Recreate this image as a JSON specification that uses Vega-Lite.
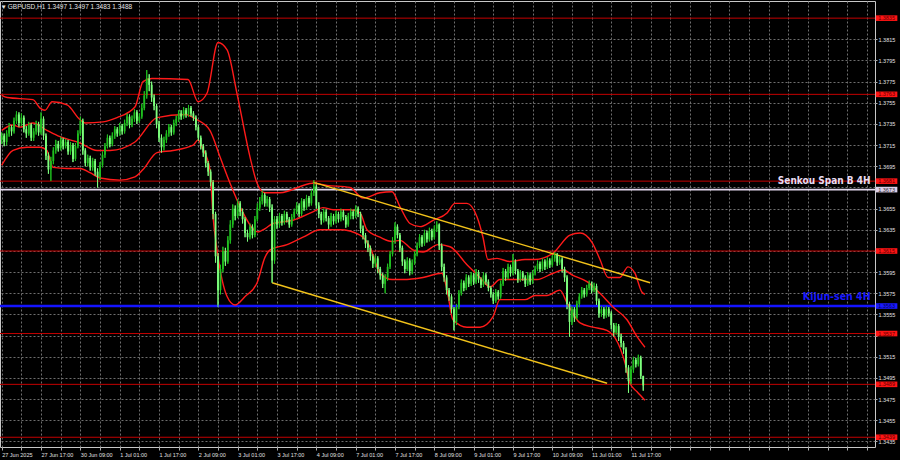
{
"$schema":"https://vega.github.io/schema/vega-lite/v6.json",
"width":875,"height":446,"autosize":{"type":"none"},
"padding":{"left":0,"top":1,"right":25,"bottom":13},
"background":"#000000",
"config":{"view":{"stroke":"#c8c8c8","strokeWidth":1},"font":"Liberation Sans","axis":{"labelFont":"Liberation Sans","labelOverlap":false}},
"title":{"text":"▾ GBPUSD,H1  1.3497 1.3497 1.3483 1.3488","anchor":"start","frame":"group","offset":-9,"fontSize":6.5,"color":"#e6e6e6","fontWeight":"normal","font":"Liberation Sans","dx":2},
"datasets":{
"candles":[
{"i":0,"o":1.3720,"h":1.3727,"l":1.3716,"c":1.3724},
{"i":1,"o":1.3724,"h":1.3726,"l":1.3714,"c":1.3718},
{"i":2,"o":1.3718,"h":1.3729,"l":1.3715,"c":1.3726},
{"i":3,"o":1.3726,"h":1.3736,"l":1.3723,"c":1.3732},
{"i":4,"o":1.3732,"h":1.3734,"l":1.3724,"c":1.3728},
{"i":5,"o":1.3728,"h":1.3741,"l":1.3726,"c":1.3738},
{"i":6,"o":1.3738,"h":1.3747,"l":1.3735,"c":1.3744},
{"i":7,"o":1.3744,"h":1.3746,"l":1.3732,"c":1.3736},
{"i":8,"o":1.3736,"h":1.3745,"l":1.3733,"c":1.3741},
{"i":9,"o":1.3741,"h":1.3743,"l":1.3727,"c":1.3730},
{"i":10,"o":1.3730,"h":1.3733,"l":1.3722,"c":1.3726},
{"i":11,"o":1.3726,"h":1.3737,"l":1.3724,"c":1.3734},
{"i":12,"o":1.3734,"h":1.3736,"l":1.3719,"c":1.3722},
{"i":13,"o":1.3722,"h":1.3731,"l":1.3719,"c":1.3728},
{"i":14,"o":1.3728,"h":1.3738,"l":1.3725,"c":1.3735},
{"i":15,"o":1.3735,"h":1.3737,"l":1.3724,"c":1.3727},
{"i":16,"o":1.3727,"h":1.3746,"l":1.3725,"c":1.3740},
{"i":17,"o":1.3740,"h":1.3742,"l":1.3720,"c":1.3724},
{"i":18,"o":1.3724,"h":1.3726,"l":1.3701,"c":1.3705},
{"i":19,"o":1.3705,"h":1.3708,"l":1.3688,"c":1.3692},
{"i":20,"o":1.3692,"h":1.3704,"l":1.3681,"c":1.3700},
{"i":21,"o":1.3700,"h":1.3713,"l":1.3697,"c":1.3710},
{"i":22,"o":1.3710,"h":1.3720,"l":1.3707,"c":1.3716},
{"i":23,"o":1.3716,"h":1.3719,"l":1.3709,"c":1.3712},
{"i":24,"o":1.3712,"h":1.3723,"l":1.3710,"c":1.3720},
{"i":25,"o":1.3720,"h":1.3722,"l":1.3711,"c":1.3714},
{"i":26,"o":1.3714,"h":1.3721,"l":1.3712,"c":1.3718},
{"i":27,"o":1.3718,"h":1.3720,"l":1.3706,"c":1.3709},
{"i":28,"o":1.3709,"h":1.3718,"l":1.3706,"c":1.3715},
{"i":29,"o":1.3715,"h":1.3717,"l":1.3699,"c":1.3702},
{"i":30,"o":1.3702,"h":1.3717,"l":1.3700,"c":1.3714},
{"i":31,"o":1.3714,"h":1.3729,"l":1.3712,"c":1.3726},
{"i":32,"o":1.3726,"h":1.3742,"l":1.3724,"c":1.3738},
{"i":33,"o":1.3738,"h":1.3740,"l":1.3706,"c":1.3710},
{"i":34,"o":1.3710,"h":1.3712,"l":1.3695,"c":1.3698},
{"i":35,"o":1.3698,"h":1.3706,"l":1.3695,"c":1.3703},
{"i":36,"o":1.3703,"h":1.3705,"l":1.3691,"c":1.3694},
{"i":37,"o":1.3694,"h":1.3703,"l":1.3691,"c":1.3700},
{"i":38,"o":1.3700,"h":1.3702,"l":1.3686,"c":1.3690},
{"i":39,"o":1.3690,"h":1.3693,"l":1.3675,"c":1.3685},
{"i":40,"o":1.3685,"h":1.3699,"l":1.3682,"c":1.3696},
{"i":41,"o":1.3696,"h":1.3709,"l":1.3694,"c":1.3706},
{"i":42,"o":1.3706,"h":1.3717,"l":1.3703,"c":1.3714},
{"i":43,"o":1.3714,"h":1.3725,"l":1.3712,"c":1.3722},
{"i":44,"o":1.3722,"h":1.3724,"l":1.3713,"c":1.3716},
{"i":45,"o":1.3716,"h":1.3727,"l":1.3714,"c":1.3724},
{"i":46,"o":1.3724,"h":1.3733,"l":1.3721,"c":1.3730},
{"i":47,"o":1.3730,"h":1.3732,"l":1.3723,"c":1.3726},
{"i":48,"o":1.3726,"h":1.3736,"l":1.3724,"c":1.3733},
{"i":49,"o":1.3733,"h":1.3735,"l":1.3725,"c":1.3728},
{"i":50,"o":1.3728,"h":1.3739,"l":1.3726,"c":1.3736},
{"i":51,"o":1.3736,"h":1.3745,"l":1.3733,"c":1.3742},
{"i":52,"o":1.3742,"h":1.3744,"l":1.3731,"c":1.3734},
{"i":53,"o":1.3734,"h":1.3743,"l":1.3732,"c":1.3740},
{"i":54,"o":1.3740,"h":1.3749,"l":1.3737,"c":1.3746},
{"i":55,"o":1.3746,"h":1.3748,"l":1.3735,"c":1.3738},
{"i":56,"o":1.3738,"h":1.3745,"l":1.3736,"c":1.3742},
{"i":57,"o":1.3742,"h":1.3754,"l":1.3740,"c":1.3750},
{"i":58,"o":1.3750,"h":1.3766,"l":1.3748,"c":1.3762},
{"i":59,"o":1.3762,"h":1.3786,"l":1.3759,"c":1.3778},
{"i":60,"o":1.3778,"h":1.3782,"l":1.3766,"c":1.3772},
{"i":61,"o":1.3772,"h":1.3775,"l":1.3756,"c":1.3760},
{"i":62,"o":1.3760,"h":1.3763,"l":1.3748,"c":1.3752},
{"i":63,"o":1.3752,"h":1.3754,"l":1.3731,"c":1.3735},
{"i":64,"o":1.3735,"h":1.3738,"l":1.3718,"c":1.3722},
{"i":65,"o":1.3722,"h":1.3725,"l":1.3708,"c":1.3713},
{"i":66,"o":1.3713,"h":1.3723,"l":1.3710,"c":1.3720},
{"i":67,"o":1.3720,"h":1.3729,"l":1.3717,"c":1.3726},
{"i":68,"o":1.3726,"h":1.3735,"l":1.3723,"c":1.3732},
{"i":69,"o":1.3732,"h":1.3734,"l":1.3724,"c":1.3727},
{"i":70,"o":1.3727,"h":1.3739,"l":1.3725,"c":1.3736},
{"i":71,"o":1.3736,"h":1.3743,"l":1.3733,"c":1.3740},
{"i":72,"o":1.3740,"h":1.3748,"l":1.3737,"c":1.3745},
{"i":73,"o":1.3745,"h":1.3748,"l":1.3739,"c":1.3742},
{"i":74,"o":1.3742,"h":1.3751,"l":1.3740,"c":1.3748},
{"i":75,"o":1.3748,"h":1.3750,"l":1.3741,"c":1.3744},
{"i":76,"o":1.3744,"h":1.3753,"l":1.3742,"c":1.3750},
{"i":77,"o":1.3750,"h":1.3752,"l":1.3742,"c":1.3745},
{"i":78,"o":1.3745,"h":1.3747,"l":1.3738,"c":1.3741},
{"i":79,"o":1.3741,"h":1.3743,"l":1.3729,"c":1.3732},
{"i":80,"o":1.3732,"h":1.3734,"l":1.3719,"c":1.3722},
{"i":81,"o":1.3722,"h":1.3724,"l":1.3711,"c":1.3714},
{"i":82,"o":1.3714,"h":1.3716,"l":1.3704,"c":1.3708},
{"i":83,"o":1.3708,"h":1.3710,"l":1.3694,"c":1.3698},
{"i":84,"o":1.3698,"h":1.3700,"l":1.3686,"c":1.3690},
{"i":85,"o":1.3690,"h":1.3692,"l":1.3676,"c":1.3680},
{"i":86,"o":1.3680,"h":1.3682,"l":1.3645,"c":1.3650},
{"i":87,"o":1.3650,"h":1.3652,"l":1.3604,"c":1.3610},
{"i":88,"o":1.3610,"h":1.3613,"l":1.3562,"c":1.3578},
{"i":89,"o":1.3578,"h":1.3602,"l":1.3574,"c":1.3598},
{"i":90,"o":1.3598,"h":1.3619,"l":1.3595,"c":1.3615},
{"i":91,"o":1.3615,"h":1.3618,"l":1.3601,"c":1.3605},
{"i":92,"o":1.3605,"h":1.3629,"l":1.3603,"c":1.3625},
{"i":93,"o":1.3625,"h":1.3644,"l":1.3622,"c":1.3640},
{"i":94,"o":1.3640,"h":1.3659,"l":1.3637,"c":1.3655},
{"i":95,"o":1.3655,"h":1.3658,"l":1.3644,"c":1.3648},
{"i":96,"o":1.3648,"h":1.3664,"l":1.3646,"c":1.3660},
{"i":97,"o":1.3660,"h":1.3662,"l":1.3648,"c":1.3652},
{"i":98,"o":1.3652,"h":1.3655,"l":1.3641,"c":1.3645},
{"i":99,"o":1.3645,"h":1.3647,"l":1.3628,"c":1.3632},
{"i":100,"o":1.3632,"h":1.3635,"l":1.3624,"c":1.3628},
{"i":101,"o":1.3628,"h":1.3641,"l":1.3626,"c":1.3638},
{"i":102,"o":1.3638,"h":1.3640,"l":1.3627,"c":1.3630},
{"i":103,"o":1.3630,"h":1.3648,"l":1.3628,"c":1.3645},
{"i":104,"o":1.3645,"h":1.3660,"l":1.3643,"c":1.3656},
{"i":105,"o":1.3656,"h":1.3666,"l":1.3653,"c":1.3662},
{"i":106,"o":1.3662,"h":1.3672,"l":1.3659,"c":1.3668},
{"i":107,"o":1.3668,"h":1.3670,"l":1.3657,"c":1.3660},
{"i":108,"o":1.3660,"h":1.3667,"l":1.3657,"c":1.3664},
{"i":109,"o":1.3664,"h":1.3666,"l":1.3652,"c":1.3656},
{"i":110,"o":1.3656,"h":1.3659,"l":1.3585,"c":1.3606},
{"i":111,"o":1.3606,"h":1.3648,"l":1.3603,"c":1.3645},
{"i":112,"o":1.3645,"h":1.3648,"l":1.3636,"c":1.3640},
{"i":113,"o":1.3640,"h":1.3651,"l":1.3637,"c":1.3648},
{"i":114,"o":1.3648,"h":1.3650,"l":1.3639,"c":1.3642},
{"i":115,"o":1.3642,"h":1.3653,"l":1.3640,"c":1.3650},
{"i":116,"o":1.3650,"h":1.3652,"l":1.3642,"c":1.3645},
{"i":117,"o":1.3645,"h":1.3647,"l":1.3637,"c":1.3640},
{"i":118,"o":1.3640,"h":1.3650,"l":1.3638,"c":1.3647},
{"i":119,"o":1.3647,"h":1.3655,"l":1.3645,"c":1.3652},
{"i":120,"o":1.3652,"h":1.3661,"l":1.3650,"c":1.3658},
{"i":121,"o":1.3658,"h":1.3660,"l":1.3647,"c":1.3650},
{"i":122,"o":1.3650,"h":1.3665,"l":1.3648,"c":1.3662},
{"i":123,"o":1.3662,"h":1.3664,"l":1.3653,"c":1.3656},
{"i":124,"o":1.3656,"h":1.3668,"l":1.3654,"c":1.3665},
{"i":125,"o":1.3665,"h":1.3667,"l":1.3657,"c":1.3660},
{"i":126,"o":1.3660,"h":1.3673,"l":1.3658,"c":1.3670},
{"i":127,"o":1.3670,"h":1.3682,"l":1.3667,"c":1.3676},
{"i":128,"o":1.3676,"h":1.3678,"l":1.3655,"c":1.3658},
{"i":129,"o":1.3658,"h":1.3661,"l":1.3646,"c":1.3650},
{"i":130,"o":1.3650,"h":1.3652,"l":1.3640,"c":1.3644},
{"i":131,"o":1.3644,"h":1.3655,"l":1.3642,"c":1.3652},
{"i":132,"o":1.3652,"h":1.3654,"l":1.3643,"c":1.3646},
{"i":133,"o":1.3646,"h":1.3648,"l":1.3636,"c":1.3640},
{"i":134,"o":1.3640,"h":1.3651,"l":1.3638,"c":1.3648},
{"i":135,"o":1.3648,"h":1.3650,"l":1.3640,"c":1.3643},
{"i":136,"o":1.3643,"h":1.3653,"l":1.3641,"c":1.3650},
{"i":137,"o":1.3650,"h":1.3652,"l":1.3642,"c":1.3645},
{"i":138,"o":1.3645,"h":1.3655,"l":1.3643,"c":1.3652},
{"i":139,"o":1.3652,"h":1.3654,"l":1.3644,"c":1.3647},
{"i":140,"o":1.3647,"h":1.3649,"l":1.3637,"c":1.3640},
{"i":141,"o":1.3640,"h":1.3651,"l":1.3638,"c":1.3648},
{"i":142,"o":1.3648,"h":1.3655,"l":1.3645,"c":1.3652},
{"i":143,"o":1.3652,"h":1.3654,"l":1.3645,"c":1.3648},
{"i":144,"o":1.3648,"h":1.3658,"l":1.3646,"c":1.3655},
{"i":145,"o":1.3655,"h":1.3657,"l":1.3647,"c":1.3650},
{"i":146,"o":1.3650,"h":1.3652,"l":1.3632,"c":1.3636},
{"i":147,"o":1.3636,"h":1.3639,"l":1.3626,"c":1.3630},
{"i":148,"o":1.3630,"h":1.3632,"l":1.3618,"c":1.3622},
{"i":149,"o":1.3622,"h":1.3625,"l":1.3614,"c":1.3618},
{"i":150,"o":1.3618,"h":1.3620,"l":1.3606,"c":1.3610},
{"i":151,"o":1.3610,"h":1.3612,"l":1.3599,"c":1.3603},
{"i":152,"o":1.3603,"h":1.3611,"l":1.3600,"c":1.3608},
{"i":153,"o":1.3608,"h":1.3610,"l":1.3594,"c":1.3598},
{"i":154,"o":1.3598,"h":1.3600,"l":1.3588,"c":1.3592},
{"i":155,"o":1.3592,"h":1.3594,"l":1.3580,"c":1.3584},
{"i":156,"o":1.3584,"h":1.3593,"l":1.3575,"c":1.3590},
{"i":157,"o":1.3590,"h":1.3603,"l":1.3587,"c":1.3600},
{"i":158,"o":1.3600,"h":1.3615,"l":1.3598,"c":1.3612},
{"i":159,"o":1.3612,"h":1.3628,"l":1.3610,"c":1.3625},
{"i":160,"o":1.3625,"h":1.3642,"l":1.3622,"c":1.3638},
{"i":161,"o":1.3638,"h":1.3640,"l":1.3627,"c":1.3630},
{"i":162,"o":1.3630,"h":1.3632,"l":1.3614,"c":1.3618},
{"i":163,"o":1.3618,"h":1.3620,"l":1.3601,"c":1.3605},
{"i":164,"o":1.3605,"h":1.3607,"l":1.3594,"c":1.3598},
{"i":165,"o":1.3598,"h":1.3609,"l":1.3596,"c":1.3606},
{"i":166,"o":1.3606,"h":1.3608,"l":1.3592,"c":1.3596},
{"i":167,"o":1.3596,"h":1.3607,"l":1.3593,"c":1.3604},
{"i":168,"o":1.3604,"h":1.3615,"l":1.3602,"c":1.3612},
{"i":169,"o":1.3612,"h":1.3623,"l":1.3610,"c":1.3620},
{"i":170,"o":1.3620,"h":1.3631,"l":1.3618,"c":1.3628},
{"i":171,"o":1.3628,"h":1.3630,"l":1.3619,"c":1.3622},
{"i":172,"o":1.3622,"h":1.3635,"l":1.3620,"c":1.3632},
{"i":173,"o":1.3632,"h":1.3634,"l":1.3623,"c":1.3626},
{"i":174,"o":1.3626,"h":1.3637,"l":1.3624,"c":1.3634},
{"i":175,"o":1.3634,"h":1.3636,"l":1.3625,"c":1.3628},
{"i":176,"o":1.3628,"h":1.3639,"l":1.3626,"c":1.3636},
{"i":177,"o":1.3636,"h":1.3643,"l":1.3633,"c":1.3640},
{"i":178,"o":1.3640,"h":1.3641,"l":1.3616,"c":1.3620},
{"i":179,"o":1.3620,"h":1.3622,"l":1.3596,"c":1.3600},
{"i":180,"o":1.3600,"h":1.3603,"l":1.3586,"c":1.3590},
{"i":181,"o":1.3590,"h":1.3592,"l":1.3574,"c":1.3578},
{"i":182,"o":1.3578,"h":1.3580,"l":1.3568,"c":1.3572},
{"i":183,"o":1.3572,"h":1.3574,"l":1.3556,"c":1.3560},
{"i":184,"o":1.3560,"h":1.3562,"l":1.3540,"c":1.3548},
{"i":185,"o":1.3548,"h":1.3565,"l":1.3545,"c":1.3562},
{"i":186,"o":1.3562,"h":1.3578,"l":1.3560,"c":1.3575},
{"i":187,"o":1.3575,"h":1.3588,"l":1.3573,"c":1.3585},
{"i":188,"o":1.3585,"h":1.3587,"l":1.3577,"c":1.3580},
{"i":189,"o":1.3580,"h":1.3593,"l":1.3578,"c":1.3590},
{"i":190,"o":1.3590,"h":1.3592,"l":1.3581,"c":1.3584},
{"i":191,"o":1.3584,"h":1.3595,"l":1.3582,"c":1.3592},
{"i":192,"o":1.3592,"h":1.3594,"l":1.3583,"c":1.3586},
{"i":193,"o":1.3586,"h":1.3598,"l":1.3584,"c":1.3595},
{"i":194,"o":1.3595,"h":1.3597,"l":1.3585,"c":1.3588},
{"i":195,"o":1.3588,"h":1.3590,"l":1.3580,"c":1.3583},
{"i":196,"o":1.3583,"h":1.3595,"l":1.3581,"c":1.3592},
{"i":197,"o":1.3592,"h":1.3594,"l":1.3583,"c":1.3586},
{"i":198,"o":1.3586,"h":1.3588,"l":1.3577,"c":1.3580},
{"i":199,"o":1.3580,"h":1.3582,"l":1.3571,"c":1.3574},
{"i":200,"o":1.3574,"h":1.3576,"l":1.3565,"c":1.3568},
{"i":201,"o":1.3568,"h":1.3579,"l":1.3566,"c":1.3576},
{"i":202,"o":1.3576,"h":1.3578,"l":1.3569,"c":1.3572},
{"i":203,"o":1.3572,"h":1.3587,"l":1.3570,"c":1.3584},
{"i":204,"o":1.3584,"h":1.3599,"l":1.3582,"c":1.3596},
{"i":205,"o":1.3596,"h":1.3598,"l":1.3587,"c":1.3590},
{"i":206,"o":1.3590,"h":1.3603,"l":1.3588,"c":1.3600},
{"i":207,"o":1.3600,"h":1.3602,"l":1.3591,"c":1.3594},
{"i":208,"o":1.3594,"h":1.3612,"l":1.3592,"c":1.3605},
{"i":209,"o":1.3605,"h":1.3607,"l":1.3593,"c":1.3596},
{"i":210,"o":1.3596,"h":1.3598,"l":1.3585,"c":1.3588},
{"i":211,"o":1.3588,"h":1.3597,"l":1.3586,"c":1.3594},
{"i":212,"o":1.3594,"h":1.3596,"l":1.3587,"c":1.3590},
{"i":213,"o":1.3590,"h":1.3592,"l":1.3581,"c":1.3584},
{"i":214,"o":1.3584,"h":1.3595,"l":1.3582,"c":1.3592},
{"i":215,"o":1.3592,"h":1.3594,"l":1.3583,"c":1.3586},
{"i":216,"o":1.3586,"h":1.3597,"l":1.3584,"c":1.3594},
{"i":217,"o":1.3594,"h":1.3601,"l":1.3592,"c":1.3598},
{"i":218,"o":1.3598,"h":1.3606,"l":1.3596,"c":1.3603},
{"i":219,"o":1.3603,"h":1.3605,"l":1.3595,"c":1.3598},
{"i":220,"o":1.3598,"h":1.3608,"l":1.3596,"c":1.3605},
{"i":221,"o":1.3605,"h":1.3607,"l":1.3597,"c":1.3600},
{"i":222,"o":1.3600,"h":1.3609,"l":1.3598,"c":1.3606},
{"i":223,"o":1.3606,"h":1.3608,"l":1.3599,"c":1.3602},
{"i":224,"o":1.3602,"h":1.3611,"l":1.3600,"c":1.3608},
{"i":225,"o":1.3608,"h":1.3614,"l":1.3605,"c":1.3611},
{"i":226,"o":1.3611,"h":1.3613,"l":1.3601,"c":1.3604},
{"i":227,"o":1.3604,"h":1.3610,"l":1.3602,"c":1.3607},
{"i":228,"o":1.3607,"h":1.3609,"l":1.3595,"c":1.3598},
{"i":229,"o":1.3598,"h":1.3600,"l":1.3586,"c":1.3590},
{"i":230,"o":1.3590,"h":1.3592,"l":1.3560,"c":1.3565},
{"i":231,"o":1.3565,"h":1.3567,"l":1.3534,"c":1.3548},
{"i":232,"o":1.3548,"h":1.3563,"l":1.3545,"c":1.3560},
{"i":233,"o":1.3560,"h":1.3562,"l":1.3548,"c":1.3552},
{"i":234,"o":1.3552,"h":1.3568,"l":1.3550,"c":1.3565},
{"i":235,"o":1.3565,"h":1.3575,"l":1.3562,"c":1.3572},
{"i":236,"o":1.3572,"h":1.3581,"l":1.3570,"c":1.3578},
{"i":237,"o":1.3578,"h":1.3580,"l":1.3571,"c":1.3574},
{"i":238,"o":1.3574,"h":1.3583,"l":1.3572,"c":1.3580},
{"i":239,"o":1.3580,"h":1.3587,"l":1.3578,"c":1.3584},
{"i":240,"o":1.3584,"h":1.3586,"l":1.3575,"c":1.3578},
{"i":241,"o":1.3578,"h":1.3585,"l":1.3576,"c":1.3582},
{"i":242,"o":1.3582,"h":1.3584,"l":1.3564,"c":1.3568},
{"i":243,"o":1.3568,"h":1.3570,"l":1.3552,"c":1.3556},
{"i":244,"o":1.3556,"h":1.3563,"l":1.3553,"c":1.3560},
{"i":245,"o":1.3560,"h":1.3562,"l":1.3551,"c":1.3554},
{"i":246,"o":1.3554,"h":1.3563,"l":1.3552,"c":1.3560},
{"i":247,"o":1.3560,"h":1.3562,"l":1.3553,"c":1.3556},
{"i":248,"o":1.3556,"h":1.3558,"l":1.3541,"c":1.3545},
{"i":249,"o":1.3545,"h":1.3547,"l":1.3534,"c":1.3538},
{"i":250,"o":1.3538,"h":1.3547,"l":1.3536,"c":1.3544},
{"i":251,"o":1.3544,"h":1.3546,"l":1.3530,"c":1.3534},
{"i":252,"o":1.3534,"h":1.3537,"l":1.3524,"c":1.3528},
{"i":253,"o":1.3528,"h":1.3530,"l":1.3518,"c":1.3522},
{"i":254,"o":1.3522,"h":1.3524,"l":1.3500,"c":1.3505},
{"i":255,"o":1.3505,"h":1.3507,"l":1.3481,"c":1.3492},
{"i":256,"o":1.3492,"h":1.3506,"l":1.3489,"c":1.3503},
{"i":257,"o":1.3503,"h":1.3515,"l":1.3500,"c":1.3512},
{"i":258,"o":1.3512,"h":1.3514,"l":1.3505,"c":1.3508},
{"i":259,"o":1.3508,"h":1.3517,"l":1.3506,"c":1.3514},
{"i":260,"o":1.3514,"h":1.3516,"l":1.3494,"c":1.3497},
{"i":261,"o":1.3497,"h":1.3497,"l":1.3483,"c":1.3488}
],
"bands":[
{"b":"up","i":0,"v":1.3762},{"b":"up","i":2.2,"v":1.3760},{"b":"up","i":12.7,"v":1.3758},{"b":"up","i":15.6,"v":1.3750},{"b":"up","i":17.6,"v":1.3748},{"b":"up","i":20.5,"v":1.3756},{"b":"up","i":26.6,"v":1.3753},{"b":"up","i":31.9,"v":1.3739},{"b":"up","i":33.9,"v":1.3736},{"b":"up","i":41.2,"v":1.3737},{"b":"up","i":46.9,"v":1.3741},{"b":"up","i":54.2,"v":1.3751},{"b":"up","i":57.5,"v":1.3775},{"b":"up","i":61.1,"v":1.3778},{"b":"up","i":75.8,"v":1.3777},{"b":"up","i":79.9,"v":1.3756},{"b":"up","i":83.5,"v":1.3764},{"b":"up","i":88,"v":1.3812},{"b":"up","i":91.7,"v":1.3805},{"b":"up","i":95.7,"v":1.3764},{"b":"up","i":101,"v":1.3704},{"b":"up","i":103.9,"v":1.3679},{"b":"up","i":107.1,"v":1.3670},{"b":"up","i":113.2,"v":1.3670},{"b":"up","i":126.6,"v":1.3679},{"b":"up","i":132.3,"v":1.3677},{"b":"up","i":141.7,"v":1.3675},{"b":"up","i":147,"v":1.3665},{"b":"up","i":153.9,"v":1.3670},{"b":"up","i":158.8,"v":1.3671},{"b":"up","i":162,"v":1.3657},{"b":"up","i":166.1,"v":1.3641},{"b":"up","i":170.2,"v":1.3638},{"b":"up","i":175.5,"v":1.3644},{"b":"up","i":181.2,"v":1.3651},{"b":"up","i":184.4,"v":1.3660},{"b":"up","i":189.3,"v":1.3660},{"b":"up","i":193.4,"v":1.3647},{"b":"up","i":195.8,"v":1.3628},{"b":"up","i":197.8,"v":1.3607},{"b":"up","i":201.5,"v":1.3608},{"b":"up","i":206.8,"v":1.3605},{"b":"up","i":212.9,"v":1.3607},{"b":"up","i":217,"v":1.3607},{"b":"up","i":224.3,"v":1.3613},{"b":"up","i":231.2,"v":1.3630},{"b":"up","i":235.3,"v":1.3632},{"b":"up","i":240.2,"v":1.3623},{"b":"up","i":243.4,"v":1.3607},{"b":"up","i":246.7,"v":1.3590},{"b":"up","i":251.5,"v":1.3590},{"b":"up","i":254.8,"v":1.3600},{"b":"up","i":257.6,"v":1.3594},{"b":"up","i":260.5,"v":1.3576},{"b":"up","i":261.7,"v":1.3574},
{"b":"mid","i":0,"v":1.3729},{"b":"mid","i":4.6,"v":1.3734},{"b":"mid","i":7.4,"v":1.3732},{"b":"mid","i":12.7,"v":1.3736},{"b":"mid","i":18.4,"v":1.3729},{"b":"mid","i":23.7,"v":1.3723},{"b":"mid","i":31.9,"v":1.3717},{"b":"mid","i":38.8,"v":1.3710},{"b":"mid","i":44.1,"v":1.3710},{"b":"mid","i":54.2,"v":1.3718},{"b":"mid","i":63.2,"v":1.3741},{"b":"mid","i":74.6,"v":1.3744},{"b":"mid","i":79.5,"v":1.3739},{"b":"mid","i":84.7,"v":1.3729},{"b":"mid","i":88.8,"v":1.3704},{"b":"mid","i":92.9,"v":1.3679},{"b":"mid","i":98.2,"v":1.3651},{"b":"mid","i":104.3,"v":1.3633},{"b":"mid","i":107,"v":1.3636},{"b":"mid","i":110.4,"v":1.3641},{"b":"mid","i":118.5,"v":1.3644},{"b":"mid","i":126.6,"v":1.3652},{"b":"mid","i":130.7,"v":1.3656},{"b":"mid","i":134.8,"v":1.3654},{"b":"mid","i":141.7,"v":1.3654},{"b":"mid","i":145.8,"v":1.3651},{"b":"mid","i":148.6,"v":1.3635},{"b":"mid","i":153.9,"v":1.3628},{"b":"mid","i":158.8,"v":1.3624},{"b":"mid","i":162,"v":1.3625},{"b":"mid","i":167.3,"v":1.3616},{"b":"mid","i":171.4,"v":1.3614},{"b":"mid","i":177.5,"v":1.3621},{"b":"mid","i":182.4,"v":1.3619},{"b":"mid","i":189.3,"v":1.3602},{"b":"mid","i":194.6,"v":1.3590},{"b":"mid","i":198.7,"v":1.3581},{"b":"mid","i":202.7,"v":1.3588},{"b":"mid","i":212.9,"v":1.3588},{"b":"mid","i":217.8,"v":1.3588},{"b":"mid","i":224.3,"v":1.3594},{"b":"mid","i":228.4,"v":1.3597},{"b":"mid","i":232.4,"v":1.3592},{"b":"mid","i":238.1,"v":1.3586},{"b":"mid","i":243.4,"v":1.3575},{"b":"mid","i":248.7,"v":1.3562},{"b":"mid","i":254.4,"v":1.3550},{"b":"mid","i":258.5,"v":1.3534},{"b":"mid","i":261.7,"v":1.3524},
{"b":"lo","i":0,"v":1.3696},{"b":"lo","i":4.6,"v":1.3710},{"b":"lo","i":10.3,"v":1.3713},{"b":"lo","i":15.6,"v":1.3713},{"b":"lo","i":18.4,"v":1.3710},{"b":"lo","i":20.9,"v":1.3694},{"b":"lo","i":26.6,"v":1.3693},{"b":"lo","i":31.9,"v":1.3693},{"b":"lo","i":35.9,"v":1.3689},{"b":"lo","i":40,"v":1.3684},{"b":"lo","i":48.1,"v":1.3682},{"b":"lo","i":54.2,"v":1.3685},{"b":"lo","i":57.5,"v":1.3692},{"b":"lo","i":63.2,"v":1.3708},{"b":"lo","i":69.7,"v":1.3710},{"b":"lo","i":77.9,"v":1.3715},{"b":"lo","i":79.9,"v":1.3720},{"b":"lo","i":81.5,"v":1.3713},{"b":"lo","i":84.7,"v":1.3692},{"b":"lo","i":86,"v":1.3647},{"b":"lo","i":87.6,"v":1.3616},{"b":"lo","i":91.7,"v":1.3572},{"b":"lo","i":94.9,"v":1.3564},{"b":"lo","i":99,"v":1.3572},{"b":"lo","i":103.9,"v":1.3585},{"b":"lo","i":107.1,"v":1.3609},{"b":"lo","i":109.2,"v":1.3616},{"b":"lo","i":116.1,"v":1.3621},{"b":"lo","i":122.6,"v":1.3628},{"b":"lo","i":129.5,"v":1.3635},{"b":"lo","i":137.6,"v":1.3635},{"b":"lo","i":145.8,"v":1.3630},{"b":"lo","i":149.8,"v":1.3619},{"b":"lo","i":153.9,"v":1.3594},{"b":"lo","i":158.8,"v":1.3588},{"b":"lo","i":163.3,"v":1.3588},{"b":"lo","i":171.4,"v":1.3590},{"b":"lo","i":179.1,"v":1.3594},{"b":"lo","i":181.2,"v":1.3578},{"b":"lo","i":183.6,"v":1.3550},{"b":"lo","i":189.3,"v":1.3543},{"b":"lo","i":194.6,"v":1.3543},{"b":"lo","i":199.9,"v":1.3553},{"b":"lo","i":202.7,"v":1.3569},{"b":"lo","i":212.9,"v":1.3569},{"b":"lo","i":217,"v":1.3573},{"b":"lo","i":221.8,"v":1.3573},{"b":"lo","i":227.1,"v":1.3578},{"b":"lo","i":230,"v":1.3566},{"b":"lo","i":235.3,"v":1.3547},{"b":"lo","i":240.6,"v":1.3543},{"b":"lo","i":246.2,"v":1.3540},{"b":"lo","i":250.7,"v":1.3528},{"b":"lo","i":253.6,"v":1.3509},{"b":"lo","i":255.6,"v":1.3490},{"b":"lo","i":258.5,"v":1.3482},{"b":"lo","i":261.7,"v":1.3474}
],
"chan":[
{"s":"u","i":126.6,"v":1.3680},{"s":"u","i":263.8,"v":1.3585},
{"s":"l","i":110,"v":1.3585},{"s":"l","i":246.3,"v":1.3490}
],
"levels":[
{"v":1.3835,"k":"r","lab":"1.3835"},{"v":1.3763,"k":"r","lab":"1.3763"},{"v":1.3681,"k":"r","lab":"1.3681"},{"v":1.3673,"k":"s","lab":"1.3673"},{"v":1.3615,"k":"r","lab":"1.3615"},{"v":1.3563,"k":"b","lab":"1.3563"},{"v":1.3537,"k":"r","lab":"1.3537"},{"v":1.3489,"k":"r","lab":"1.3489"},{"v":1.3439,"k":"r","lab":"1.3439"}
]
},
"layer":[
{"data":{"name":"candles"},"mark":{"type":"rule","strokeWidth":1},
 "encoding":{
  "x":{"field":"i","type":"quantitative","scale":{"domain":[-0.7,355.3],"nice":false,"zero":false},
   "axis":{"orient":"bottom","values":[0,8,16,24,32,40,48,56,64,72,80,88,96,104,112,120,128,136,144,152,160,168,176,184,192,200,208,216,224,232,240,248,256,264,272,280,288,296,304,312,320,328,336,344,352],"tickCount":200,"grid":true,"gridColor":"#6e6e6e","gridDash":[2,2],"gridWidth":1,"labelExpr":"datum.value % 16 == 0 && datum.value <= 256 ? ['27 Jun 2025','27 Jun 17:00','30 Jun 09:00','1 Jul 01:00','1 Jul 17:00','2 Jul 09:00','3 Jul 01:00','3 Jul 17:00','4 Jul 09:00','7 Jul 01:00','7 Jul 17:00','8 Jul 09:00','9 Jul 01:00','9 Jul 17:00','10 Jul 09:00','11 Jul 01:00','11 Jul 17:00'][datum.value/16] : ''","labelAlign":"left","labelColor":"#e0e0e0","labelFontSize":5.5,"labelPadding":2,"tickSize":3,"tickColor":"#b0b0b0","domain":false,"title":null,"labelOverlap":false,"labelFlush":false}},
  "y":{"field":"l","type":"quantitative","scale":{"domain":[1.34298,1.38512],"nice":false,"zero":false},
   "axis":{"orient":"right","values":[1.3435,1.3455,1.3475,1.3495,1.3515,1.3535,1.3555,1.3575,1.3595,1.3615,1.3635,1.3655,1.3675,1.3695,1.3715,1.3735,1.3755,1.3775,1.3795,1.3815],"tickCount":200,"format":".4f","labelExpr":"indexof(['1.3675','1.3615','1.3535'], datum.label) >= 0 ? '' : datum.label","grid":true,"gridColor":"#6e6e6e","gridDash":[2,2],"gridWidth":1,"labelColor":"#e0e0e0","labelFontSize":5.5,"labelPadding":1,"tickSize":2,"tickColor":"#b0b0b0","domain":false,"title":null,"labelOverlap":false,"labelBaseline":"middle","labelFlush":false}},
  "y2":{"field":"h"},
  "color":{"condition":{"test":"datum.c >= datum.o","value":"#1fbf1f"},"value":"#7dff7d"}}},
{"data":{"name":"levels"},"mark":{"type":"rule"},
 "encoding":{
  "y":{"field":"v","type":"quantitative"},
  "x":{"datum":-0.7,"type":"quantitative"},
  "x2":{"datum":355.3},
  "stroke":{"field":"k","type":"nominal","scale":{"domain":["r","s","b"],"range":["#c40000","#e4d8ee","#1414ff"]},"legend":null},
  "strokeWidth":{"field":"k","type":"nominal","scale":{"domain":["r","s","b"],"range":[1,2.5,3.2]},"legend":null}
 }},
{"data":{"name":"bands"},"mark":{"type":"line","color":"#ff1a1a","strokeWidth":1.4,"interpolate":"monotone"},
 "encoding":{"x":{"field":"i","type":"quantitative"},"y":{"field":"v","type":"quantitative"},"detail":{"field":"b","type":"nominal"}}},
{"data":{"name":"chan"},"mark":{"type":"line","color":"#f2c21a","strokeWidth":1.4},
 "encoding":{"x":{"field":"i","type":"quantitative"},"y":{"field":"v","type":"quantitative"},"detail":{"field":"s","type":"nominal"}}},
{"data":{"name":"candles"},"mark":{"type":"rule","strokeWidth":1},
 "encoding":{"x":{"field":"i","type":"quantitative"},"y":{"field":"l","type":"quantitative"},"y2":{"field":"h"},
  "color":{"condition":{"test":"datum.c >= datum.o","value":"#1fbf1f"},"value":"#7dff7d"}}},
{"data":{"name":"candles"},"mark":{"type":"rule","strokeWidth":1.8,"strokeCap":"butt"},
 "encoding":{"x":{"field":"i","type":"quantitative"},"y":{"field":"o","type":"quantitative"},"y2":{"field":"c"},
  "color":{"condition":{"test":"datum.c >= datum.o","value":"#1fbf1f"},"value":"#7dff7d"}}},
{"data":{"values":[{"t":"Senkou Span B 4H","v":1.3673}]},"mark":{"type":"text","align":"right","baseline":"alphabetic","dy":-6,"fontSize":10,"fontWeight":"bold","font":"'DejaVu Sans Condensed', 'Liberation Sans', sans-serif","color":"#e8dcf2"},
 "encoding":{"x":{"datum":353.5,"type":"quantitative"},"y":{"field":"v","type":"quantitative"},"text":{"field":"t"}}},
{"data":{"values":[{"t":"Kijun-sen 4H","v":1.3563}]},"mark":{"type":"text","align":"right","baseline":"alphabetic","dy":-6,"fontSize":10.5,"fontWeight":"bold","font":"'DejaVu Sans Condensed', 'Liberation Sans', sans-serif","color":"#1a1aff"},
 "encoding":{"x":{"datum":353.5,"type":"quantitative"},"y":{"field":"v","type":"quantitative"},"text":{"field":"t"}}},
{"data":{"name":"levels"},"mark":{"type":"point","filled":true,"opacity":1,"strokeWidth":0,"shape":"M-1,-0.26L1,-0.26L1,0.26L-1,0.26Z","size":466},
 "encoding":{"x":{"datum":360,"type":"quantitative"},"y":{"field":"v","type":"quantitative"},
  "fill":{"field":"k","type":"nominal","scale":{"domain":["r","s","b"],"range":["#ff1414","#dccfe8","#1a1aff"]},"legend":null}}},
{"data":{"name":"levels"},"mark":{"type":"text","align":"center","baseline":"middle","fontSize":5.5,"font":"Liberation Sans"},
 "encoding":{"x":{"datum":360,"type":"quantitative"},"y":{"field":"v","type":"quantitative"},"text":{"field":"lab"},
  "color":{"field":"k","type":"nominal","scale":{"domain":["r","s","b"],"range":["#600000","#303030","#00005a"]},"legend":null}}}
]
}
